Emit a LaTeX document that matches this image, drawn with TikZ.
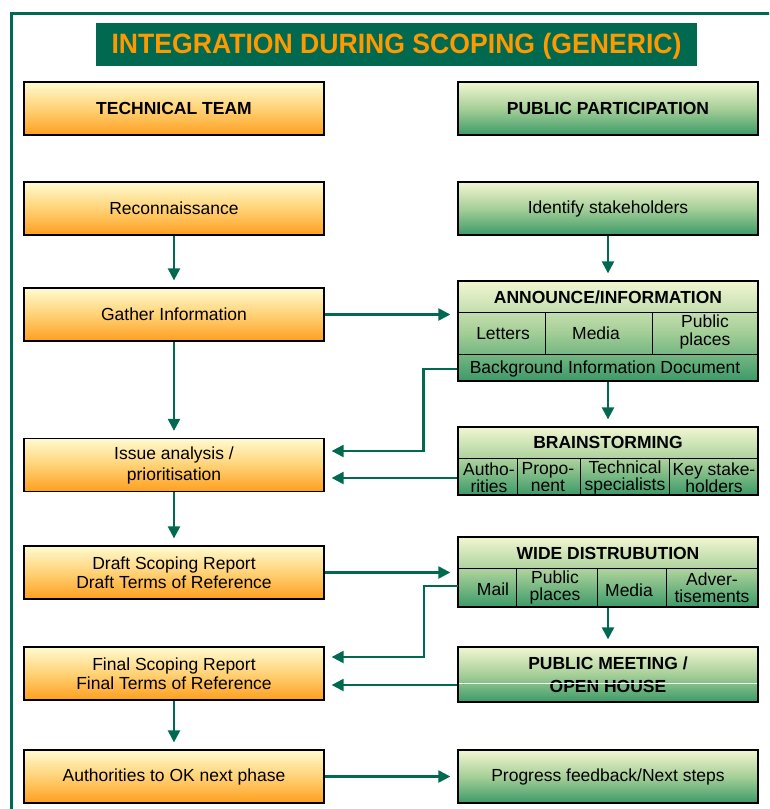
\documentclass[tikz,border=0pt]{standalone}
\usepackage{fontspec}
\setmainfont{Liberation Sans}
\usetikzlibrary{arrows.meta}
\definecolor{dkgreen}{HTML}{00694F}
\definecolor{ttl}{HTML}{FF9900}
\definecolor{otop}{HTML}{FFFBD0}
\definecolor{omid}{HTML}{FFD276}
\definecolor{obot}{HTML}{FF9F1F}
\definecolor{gtop}{HTML}{F2F6D2}
\definecolor{gmid}{HTML}{A6CF98}
\definecolor{gbot}{HTML}{3C9A68}
\begin{document}
\begin{tikzpicture}[x=1pt,y=-1pt,
  txt/.style={font=\fontsize{17.5}{19}\selectfont, text=black, align=center, inner sep=0pt},
  hdr/.style={txt, font=\fontsize{17.5}{19}\selectfont\bfseries},
  boxbase/.style={draw=black, line width=1.3pt, minimum width=300pt, minimum height=53pt},
  obox/.style={txt, boxbase, top color=otop, bottom color=obot, middle color=omid},
  gbox/.style={txt, boxbase, top color=gtop, bottom color=gbot, middle color=gmid},
  cellline/.style={draw=black, line width=0.9pt},
  conn/.style={draw=dkgreen, line width=2.3pt, -{Triangle[length=12pt,width=12pt]}, shorten >=7pt},
]
\clip (0,0) rectangle (769,809);
\fill[white] (0,0) rectangle (769,809);
% frame
\draw[dkgreen, line width=3.5pt] (11.5,820) -- (11.5,13.5) -- (780,13.5);
% title
\node[fill=dkgreen, minimum width=601pt, minimum height=43pt, inner sep=0pt] (title) at (396.5,44.5) {};
\node[inner sep=0pt] (titletext) at (396.5,46.5)
  {\scalebox{0.95}[1]{\fontsize{28}{30}\selectfont\bfseries\color{ttl}INTEGRATION DURING SCOPING (GENERIC)}};

% left column
\node[obox, hdr] (tt) at (174,108.5) {TECHNICAL TEAM};
\node[obox] (recon) at (174,208.5) {Reconnaissance};
\node[obox] (gather) at (174,314.5) {Gather Information};
\node[obox, font=\fontsize{17.5}{21}\selectfont] (issue) at (174,465) {Issue analysis /\\prioritisation};
\node[obox] (draft) at (174,572.5) {Draft Scoping Report\\Draft Terms of Reference};
\node[obox] (final) at (174,673.5) {Final Scoping Report\\Final Terms of Reference};
\node[obox] (auth) at (174,776.5) {Authorities to OK next phase};

% right column
\node[gbox, hdr] (pp) at (608,108.5) {PUBLIC PARTICIPATION};
\node[gbox] (ident) at (608,208.5) {Identify stakeholders};

% announce box
\node[gbox, minimum height=100pt] (ann) at (608,331) {};
\draw[cellline] (458,312) -- (758,312);
\draw[cellline] (458,354) -- (758,354);
\draw[cellline] (545,312) -- (545,354);
\draw[cellline] (652,312) -- (652,354);
\node[hdr] (annh) at (608,297) {ANNOUNCE/INFORMATION};
\node[txt] (annl) at (503,334) {Letters};
\node[txt] (annm) at (596,333) {Media};
\node[txt, font=\fontsize{17.5}{18}\selectfont] (annp) at (705,332) {Public\\places};
\node[txt] (bid) at (605,369) {Background Information Document};

% brainstorming box
\node[gbox, minimum height=68pt] (brain) at (608,461) {};
\draw[cellline] (458,458) -- (758,458);
\draw[cellline] (517,458) -- (517,495);
\draw[cellline] (580,458) -- (580,495);
\draw[cellline] (669,458) -- (669,495);
\node[hdr] (brh) at (608,442) {BRAINSTORMING};
\node[txt, font=\fontsize{17.5}{17}\selectfont] (bra) at (489,477.5) {Autho-\\rities};
\node[txt, font=\fontsize{17.5}{17}\selectfont] (brp) at (548,477.5) {Propo-\\nent};
\node[txt, font=\fontsize{17.5}{17}\selectfont] (brt) at (625,477.5) {Technical\\specialists};
\node[txt, font=\fontsize{17.5}{17}\selectfont] (brk) at (714,477.5) {Key stake-\\holders};

% wide distribution box
\node[gbox, minimum height=70pt] (wide) at (608,572) {};
\draw[cellline] (458,568) -- (758,568);
\draw[cellline] (516,568) -- (516,607);
\draw[cellline] (597,568) -- (597,607);
\draw[cellline] (666,568) -- (666,607);
\node[hdr] (wdh) at (608,553) {WIDE DISTRUBUTION};
\node[txt] (wdm) at (493,589) {Mail};
\node[txt, font=\fontsize{17.5}{17}\selectfont] (wdp) at (555,587.5) {Public\\places};
\node[txt] (wdd) at (629,590) {Media};
\node[txt, font=\fontsize{17.5}{17}\selectfont] (wda) at (712,587.5) {Adver-\\tisements};
\coordinate (wb) at (458,586);

% public meeting
\node[gbox, hdr, minimum height=55pt, font=\fontsize{17.5}{22.5}\selectfont\bfseries] (pm) at (608,674.5) {PUBLIC MEETING /\\OPEN HOUSE};
\draw[white, line width=1pt] (459,683.5) -- (757,683.5);

\node[gbox] (prog) at (608,776.5) {Progress feedback/Next steps};

% connectors
\draw[conn] (recon) -- (gather);
\draw[conn] (gather) -- (issue);
\draw[conn] (issue) -- (draft);
\draw[conn] (final) -- (auth);
\draw[conn] (gather.east) -- (gather.east -| ann.west);
\draw[conn] (ident) -- (ann);
\draw[conn] (ann) -- (brain);
\draw[conn] (wide) -- (pm);
\draw[conn] (bid -| ann.west) -- ++(-34,0) |- ([yshift=14pt]issue.east);
\draw[conn] ([yshift=-13pt]issue.east -| brain.west) -- ([yshift=-13pt]issue.east);
\draw[conn] (draft.east) -- (draft.east -| wide.west);
\draw[conn] (wb) -- ++(-34,0) |- ([yshift=16.5pt]final.east);
\draw[conn] ([yshift=-11.5pt]final.east -| pm.west) -- ([yshift=-11.5pt]final.east);
\draw[conn] (auth) -- (prog);
\end{tikzpicture}
\end{document}
